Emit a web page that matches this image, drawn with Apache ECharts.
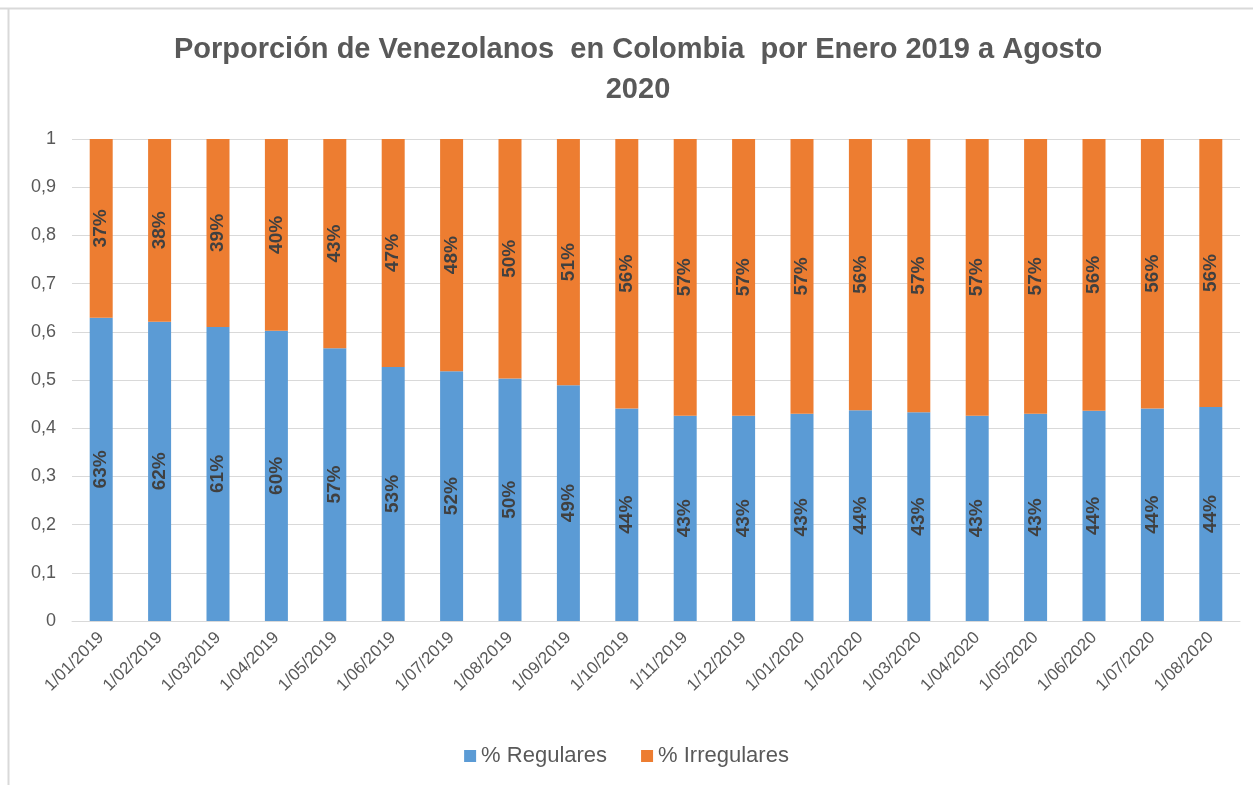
<!DOCTYPE html>
<html>
<head>
<meta charset="utf-8">
<script src="https://cdn.jsdelivr.net/npm/echarts@6/dist/echarts.min.js"></script>
<style>html,body{margin:0;padding:0;background:#fff}#c{width:1253px;height:785px}</style>
</head>
<body>
<div id="c"></div>
<script>
var categories = ['1/01/2019','1/02/2019','1/03/2019','1/04/2019','1/05/2019','1/06/2019','1/07/2019','1/08/2019','1/09/2019','1/10/2019','1/11/2019','1/12/2019','1/01/2020','1/02/2020','1/03/2020','1/04/2020','1/05/2020','1/06/2020','1/07/2020','1/08/2020'];
var regulares = [0.629,0.621,0.610,0.602,0.566,0.527,0.518,0.503,0.489,0.441,0.426,0.426,0.430,0.437,0.433,0.426,0.430,0.436,0.441,0.444];
var irregulares = [0.371,0.379,0.390,0.398,0.434,0.473,0.482,0.497,0.511,0.559,0.574,0.574,0.570,0.563,0.567,0.574,0.570,0.564,0.559,0.556];
var yTicks = ['0','0,1','0,2','0,3','0,4','0,5','0,6','0,7','0,8','0,9','1'];
var titleText = 'Porporción de Venezolanos  en Colombia  por Enero 2019 a Agosto\n2020';

var chart = echarts.init(document.getElementById('c'), null, {renderer:'canvas'});
var labelCfg = {
  show: true, position: 'inside', rotate: 90,
  fontFamily: 'Liberation Sans, Arial, sans-serif', fontWeight: 'bold', fontSize: 19, color: '#404040',
  formatter: function(p){ return Math.round(p.value*100) + '%'; }
};
chart.setOption({
  animation: false,
  backgroundColor: '#fff',
  graphic: [
    {type:'line', shape:{x1:0,y1:8.5,x2:1253,y2:8.5}, style:{stroke:'#d9d9d9', lineWidth:2}},
    {type:'line', shape:{x1:8.5,y1:8,x2:8.5,y2:785}, style:{stroke:'#d9d9d9', lineWidth:2}},
    {type:'text', x: 638, y: 30, style: {text: titleText, align: 'center', verticalAlign: 'top',
      fontFamily: 'Liberation Sans, Arial, sans-serif', fontWeight: 'bold', fontSize: 29, lineHeight: 40, fill: '#595959'}}
  ],
  legend: {
    bottom: 13, left: 'center', itemWidth: 12, itemHeight: 12, itemGap: 34,
    icon: 'rect',
    textStyle: {fontFamily: 'Liberation Sans, Arial, sans-serif', fontSize: 22, color: '#595959'},
    data: ['% Regulares','% Irregulares']
  },
  grid: {left: 72, right: 13, top: 139, bottom: 164, containLabel: false},
  xAxis: {
    type: 'category', data: categories,
    axisLine: {lineStyle: {color: '#d9d9d9', width: 1}},
    axisTick: {show: false},
    axisLabel: {rotate: 45, fontFamily: 'Liberation Sans, Arial, sans-serif', fontSize: 17, color: '#595959', margin: 14, interval: 0}
  },
  yAxis: {
    type: 'value', min: 0, max: 1, interval: 0.1,
    axisLine: {show: false}, axisTick: {show: false},
    splitLine: {lineStyle: {color: '#d9d9d9', width: 1}},
    axisLabel: {fontFamily: 'Liberation Sans, Arial, sans-serif', fontSize: 18, color: '#595959', margin: 16,
      formatter: function(v){ return yTicks[Math.round(v*10)]; }}
  },
  series: [
    {name: '% Regulares', type: 'bar', stack: 't', data: regulares, barWidth: 23,
     itemStyle: {color: '#5b9bd5'}, label: labelCfg},
    {name: '% Irregulares', type: 'bar', stack: 't', data: irregulares, barWidth: 23,
     itemStyle: {color: '#ed7d31'}, label: labelCfg}
  ]
});
</script>
</body>
</html>
